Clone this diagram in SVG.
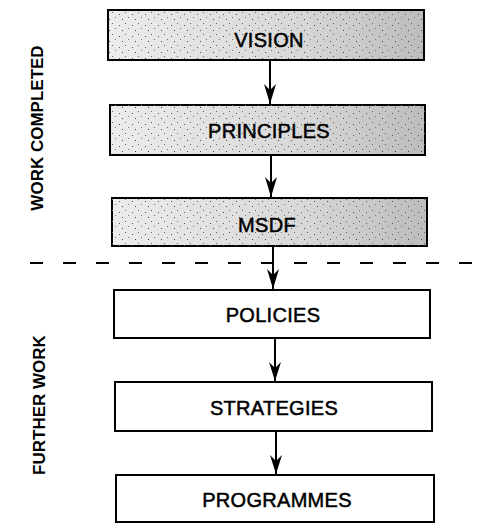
<svg xmlns="http://www.w3.org/2000/svg" width="487" height="523" viewBox="0 0 487 523">
<style>
.box{stroke:#000;stroke-width:2}
.plain{fill:#fff}
.shade{fill:url(#grad)}
.lbl{font-family:"Liberation Sans",Arial,sans-serif;font-size:20px;letter-spacing:0.3px;fill:#000;stroke:#000;stroke-width:0.5;text-anchor:middle}
.side{font-family:"Liberation Sans",Arial,sans-serif;font-size:17px;font-weight:bold;fill:#000;text-anchor:middle}
.conn{stroke:#000;stroke-width:2;fill:none}
</style>
<defs>
<linearGradient id="grad" x1="0" y1="0" x2="1" y2="0">
<stop offset="0" stop-color="#ececec"/>
<stop offset="0.6" stop-color="#d8d8d8"/>
<stop offset="1" stop-color="#bcbcbc"/>
</linearGradient>
<pattern id="dots" width="13" height="11" patternUnits="userSpaceOnUse">
<rect x="2" y="3" width="1" height="1" fill="#555"/>
<rect x="8" y="1" width="1" height="1" fill="#666"/>
<rect x="5" y="8" width="1" height="1" fill="#444"/>
<rect x="11" y="6" width="1" height="1" fill="#777"/>
</pattern>
</defs>

<g id="connectors">
<line class="conn" x1="270" y1="60" x2="270" y2="104"/>
<line class="conn" x1="271" y1="155" x2="271" y2="197"/>
<line class="conn" x1="273" y1="247" x2="273" y2="289"/>
<line class="conn" x1="275" y1="338" x2="275" y2="381"/>
<line class="conn" x1="276" y1="431" x2="276" y2="474"/>
<path d="M264,84 L270,104 L276,84 L270,90 Z" fill="#000"/>
<path d="M265,177 L271,197 L277,177 L271,183 Z" fill="#000"/>
<path d="M267,269 L273,289 L279,269 L273,275 Z" fill="#000"/>
<path d="M269,362 L275,381 L281,362 L275,368 Z" fill="#000"/>
<path d="M270,455 L276,474 L282,455 L276,461 Z" fill="#000"/>
<line x1="30" y1="263" x2="478" y2="263" stroke="#000" stroke-width="2.2" stroke-dasharray="13 20"/>
</g>

<g id="vision">
<rect class="box shade" x="108" y="10" width="316" height="50"/>
<rect x="108" y="10" width="316" height="50" fill="url(#dots)"/>
<text class="lbl" x="269" y="47">VISION</text>
</g>
<g id="principles">
<rect class="box shade" x="110" y="105" width="315" height="50"/>
<rect x="110" y="105" width="315" height="50" fill="url(#dots)"/>
<text class="lbl" x="269" y="138">PRINCIPLES</text>
</g>
<g id="msdf">
<rect class="box shade" x="112" y="198" width="315" height="48"/>
<rect x="112" y="198" width="315" height="48" fill="url(#dots)"/>
<text class="lbl" x="267" y="232">MSDF</text>
</g>
<g id="policies">
<rect class="box plain" x="114" y="290" width="316" height="48"/>
<text class="lbl" x="273" y="322">POLICIES</text>
</g>
<g id="strategies">
<rect class="box plain" x="115" y="382" width="317" height="49"/>
<text class="lbl" x="274" y="415">STRATEGIES</text>
</g>
<g id="programmes">
<rect class="box plain" x="116" y="475" width="318" height="47"/>
<text class="lbl" x="277" y="507">PROGRAMMES</text>
</g>

<g id="side-labels">
<text class="side" transform="translate(43,128) rotate(-90)">WORK COMPLETED</text>
<text class="side" transform="translate(45,405) rotate(-90)">FURTHER WORK</text>
</g>
</svg>
